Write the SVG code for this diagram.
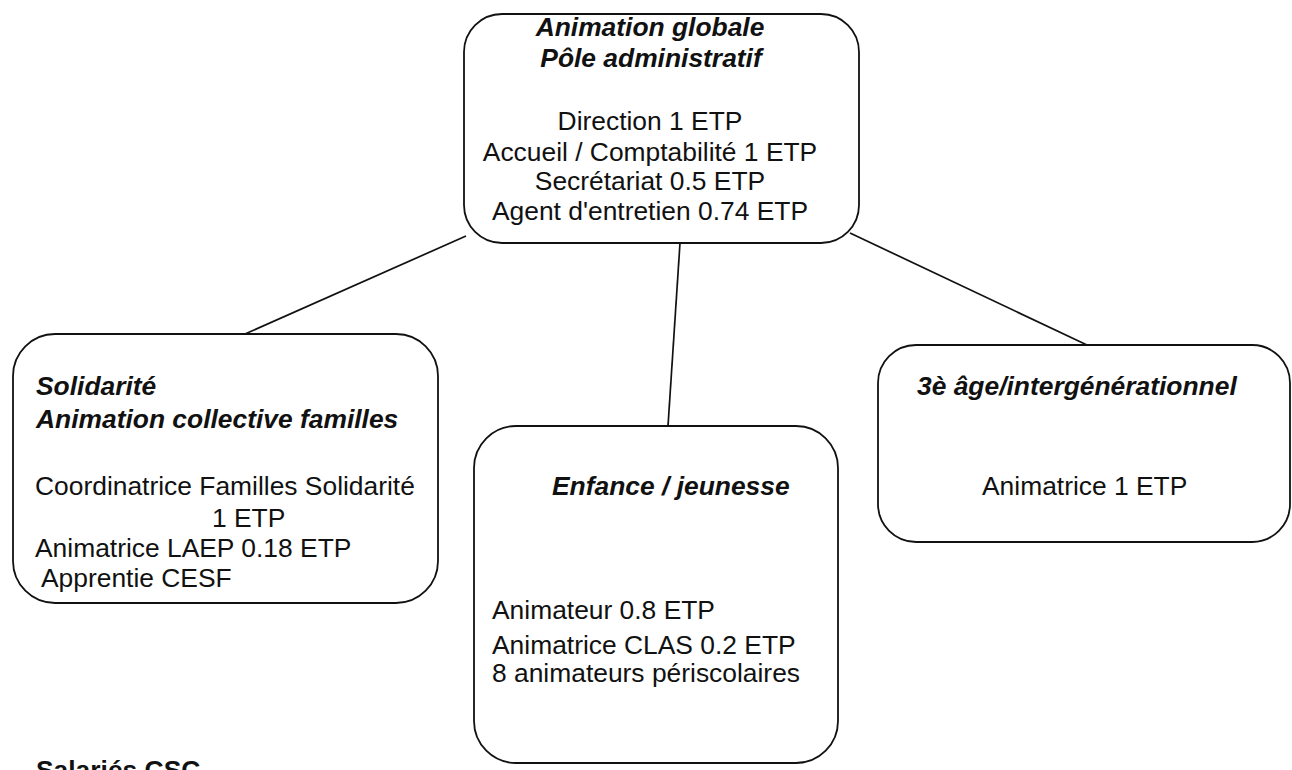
<svg xmlns="http://www.w3.org/2000/svg" width="1292" height="770" viewBox="0 0 1292 770">
<style>
.box{fill:#fff;stroke:#111;stroke-width:1.8}
.edge{stroke:#111;stroke-width:1.7;fill:none}
.t{font-family:"Liberation Sans",Arial,sans-serif;font-size:26.4px;fill:#111}
.h{font-weight:bold;font-style:italic}
.c{text-anchor:middle}
</style>
<rect width="1292" height="770" fill="#fff"/>
<g id="connectors">
<line class="edge" x1="466" y1="236" x2="245" y2="334"/>
<line class="edge" x1="680" y1="243" x2="668" y2="426"/>
<line class="edge" x1="850" y1="233" x2="1087" y2="345"/>
</g>
<g id="top">
<rect class="box" x="464" y="14" width="395" height="229" rx="38" ry="38"/>
<text class="t h c" x="650" y="36">Animation globale</text>
<text class="t h c" x="651" y="67">Pôle administratif</text>
<text class="t c" x="650" y="130">Direction 1 ETP</text>
<text class="t c" x="650" y="161">Accueil / Comptabilité 1 ETP</text>
<text class="t c" x="650" y="190">Secrétariat 0.5 ETP</text>
<text class="t c" x="650" y="220">Agent d'entretien 0.74 ETP</text>
</g>
<g id="solidarite">
<rect class="box" x="13" y="334" width="425" height="269" rx="42" ry="42"/>
<text class="t h" x="36" y="395">Solidarité</text>
<text class="t h" x="36" y="428">Animation collective familles</text>
<text class="t" x="35" y="495">Coordinatrice Familles Solidarité</text>
<text class="t" x="212" y="527">1 ETP</text>
<text class="t" x="35" y="557">Animatrice LAEP 0.18 ETP</text>
<text class="t" x="41" y="587">Apprentie CESF</text>
</g>
<g id="enfance">
<rect class="box" x="474" y="426" width="364" height="337" rx="42" ry="42"/>
<text class="t h" x="552" y="495">Enfance / jeunesse</text>
<text class="t" x="492" y="619">Animateur 0.8 ETP</text>
<text class="t" x="492" y="654">Animatrice CLAS 0.2 ETP</text>
<text class="t" x="492" y="682">8 animateurs périscolaires</text>
</g>
<g id="troisieme">
<rect class="box" x="878" y="345" width="412" height="197" rx="38" ry="38"/>
<text class="t h" x="917" y="395">3è âge/intergénérationnel</text>
<text class="t" x="982" y="495">Animatrice 1 ETP</text>
</g>
<text class="t" x="36" y="779" font-weight="bold">Salariés CSC</text>
</svg>
